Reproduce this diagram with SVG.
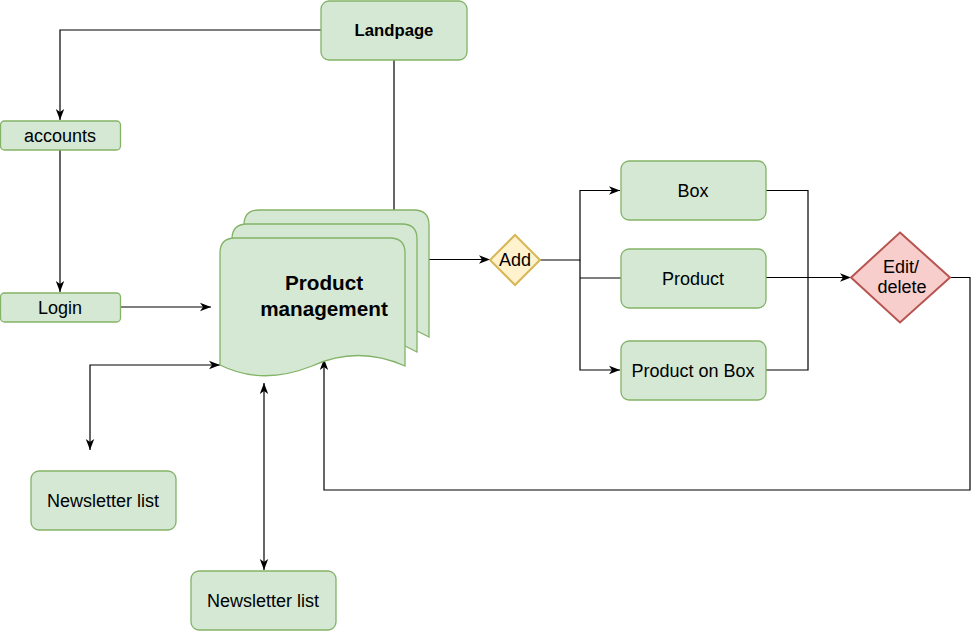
<svg xmlns="http://www.w3.org/2000/svg" width="980" height="632" viewBox="0 0 980 632">
<style>
.g{fill:#d5e8d4;stroke:#82b366;stroke-width:1.3}
.y{fill:#fff2cc;stroke:#d6b656;stroke-width:2}
.r{fill:#f8cecc;stroke:#b85450;stroke-width:2}
.c{fill:none;stroke:#000;stroke-width:1.2}
.t{font-family:"Liberation Sans",Arial,sans-serif;font-size:18px;fill:#000;text-anchor:middle}
.b{font-weight:bold}
</style>
<defs>
<marker id="a" markerUnits="userSpaceOnUse" markerWidth="12" markerHeight="10" viewBox="0 0 12 10" refX="11" refY="5" orient="auto-start-reverse">
<path d="M0,0.8 L11,5 L0,9.2 L3,5 Z" fill="#000"/>
</marker>
</defs>
<g id="connectors">
<path class="c" d="M321,30 H60 V120" marker-end="url(#a)"/>
<path class="c" d="M394,60 V210"/>
<path class="c" d="M60,150 V292" marker-end="url(#a)"/>
<path class="c" d="M120,307 H211" marker-end="url(#a)"/>
<path class="c" d="M429,259.5 H490" marker-end="url(#a)"/>
<path class="c" d="M540,260 H580 V190.5 H620" marker-end="url(#a)"/>
<path class="c" d="M580,260 V370 H620" marker-end="url(#a)"/>
<path class="c" d="M580,278 H621"/>
<path class="c" d="M766,190.5 H808 V277.5"/>
<path class="c" d="M766,370 H808 V277.5"/>
<path class="c" d="M766,277.5 H851" marker-end="url(#a)"/>
<path class="c" d="M950,277.5 H970 V490 H324 V359" marker-end="url(#a)"/>
<path class="c" d="M90,450 V365 H220" marker-start="url(#a)" marker-end="url(#a)"/>
<path class="c" d="M264,383 V570" marker-start="url(#a)" marker-end="url(#a)"/>
</g>
<g id="landpage">
<rect class="g" x="321" y="1" width="146" height="59" rx="8"/>
<text class="t b" x="394" y="36" style="font-size:16.7px">Landpage</text>
</g>
<g id="accounts">
<rect class="g" x="0.5" y="121" width="120" height="29" rx="4"/>
<text class="t" x="60" y="142">accounts</text>
</g>
<g id="login">
<rect class="g" x="0.5" y="293" width="120" height="29" rx="4"/>
<text class="t" x="60" y="314">Login</text>
</g>
<g id="newsletter1">
<rect class="g" x="31" y="471" width="145" height="59" rx="8"/>
<text class="t" x="103" y="507">Newsletter list</text>
</g>
<g id="newsletter2">
<rect class="g" x="191" y="571" width="145" height="59" rx="8"/>
<text class="t" x="263" y="607">Newsletter list</text>
</g>
<g id="product-management">
<path class="g" d="M417,331 L429,337 L429,225 Q429,210 414,210 L259,210 Q244,210 244,225 L244,240 Z" stroke-width="2"/>
<path class="g" d="M405,346 L417,352 L417,239 Q417,224 402,224 L247,224 Q232,224 232,239 L232,252 Z" stroke-width="2"/>
<path class="g" d="M220,365 L220,253 Q220,238 235,238 L390,238 Q405,238 405,253 L405,366 Q358,345 312,366 Q262,386 220,365 Z" stroke-width="2"/>
<text class="t b" x="324" y="290" style="font-size:20.7px">Product</text>
<text class="t b" x="324" y="316" style="font-size:20.7px">management</text>
</g>
<g id="add">
<path class="y" d="M515,235 L540,260 L515,285 L490,260 Z"/>
<text class="t" x="515" y="266">Add</text>
</g>
<g id="box">
<rect class="g" x="621" y="161" width="145" height="59" rx="8"/>
<text class="t" x="693" y="197">Box</text>
</g>
<g id="product">
<rect class="g" x="621" y="249" width="145" height="59" rx="8"/>
<text class="t" x="693" y="285">Product</text>
</g>
<g id="product-on-box">
<rect class="g" x="621" y="341" width="145" height="59" rx="8"/>
<text class="t" x="693" y="377">Product on Box</text>
</g>
<g id="edit-delete">
<path class="r" d="M900,232.5 L950,277.5 L900,322.5 L851,277.5 Z"/>
<text class="t" x="901" y="273">Edit/</text>
<text class="t" x="902" y="293">delete</text>
</g>
</svg>
